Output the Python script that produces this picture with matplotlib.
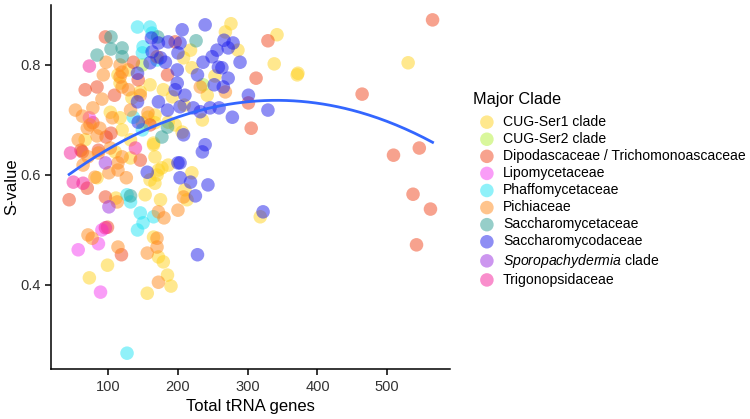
import matplotlib
matplotlib.use("Agg")
import matplotlib.pyplot as plt
import numpy as np

plt.rcParams['font.family'] = ['Liberation Sans', 'DejaVu Sans']
plt.rcParams['mathtext.fontset'] = 'custom'
plt.rcParams['mathtext.rm'] = 'Liberation Sans'
plt.rcParams['mathtext.it'] = 'Liberation Sans:italic'

# total tRNA genes / S-value per clade
cug1_x = [276, 268, 342, 338, 372, 371, 530, 318, 208, 220, 253, 192, 167, 160, 117, 117, 120,
          84, 111, 73, 99, 156, 190, 185, 179, 165, 172, 153, 175, 213, 210, 220, 160, 167, 170,
          177, 165, 132, 172, 186, 157, 149, 167, 186, 206, 165, 167, 196, 235, 286, 114, 134,
          129, 146, 218, 242, 132, 110, 103, 179, 209, 67]
cug1_y = [.875, .860, .855, .802, .785, .782, .804, .524, .813, .795, .780, .742, .709, .764, .767,
          .704, .682, .595, .558, .413, .436, .385, .398, .418, .442, .487, .451, .564, .555, .555,
          .573, .604, .591, .585, .600, .613, .655, .631, .609, .618, .705, .695, .695, .696, .678,
          .658, .633, .691, .700, .827, .782, .740,
          .791, .751, .827, .745, .664, .642, .714, .755, .727, .664]

cug2_x = [149, 236]
cug2_y = [.800, .764]

dipo_x = [565, 464, 509, 546, 537, 562, 542, 329, 312, 301, 305, 96, 136, 67, 84, 109, 78, 97,
          104, 61, 86, 44, 96, 70, 99, 119, 196, 185, 143, 146, 63, 160]
dipo_y = [.882, .747, .636, .649, .565, .538, .473, .844, .776, .731, .685, .851, .805, .755, .760,
          .745, .695, .669, .676, .645, .645, .555, .560, .576, .505, .455, .842, .782, .773, .627,
          .642, .691]

lipo_x = [73, 57, 89, 86, 91]
lipo_y = [.704, .464, .387, .475, .500]

phaf_x = [142, 160, 163, 150, 149, 136, 127, 132, 146, 142, 150, 165, 127, 149, 170]
phaf_y = [.869, .869, .858, .833, .822, .705, .564, .551, .531, .500, .513, .524, .276, .682, .809]

pich_x = [97, 117, 120, 117, 120, 91, 63, 74, 70, 84, 71, 86, 64, 81, 101, 114, 126, 114, 120,
          71, 77, 114, 113, 180, 172, 200, 208, 170, 170, 156, 172, 157, 170, 232, 268,
          93, 129, 106, 146, 78, 57, 132, 53, 88, 103]
pich_y = [.805, .800, .787, .778, .760, .738, .707, .691, .685, .671, .633, .640, .618, .596, .604,
          .609, .595, .622, .633, .491, .485, .469, .551, .522, .533, .536, .560, .485, .469, .458,
          .405, .713, .815, .760, .751,
          .782, .755, .704, .745, .722, .664, .718, .718, .685, .649]

scer_x = [104, 84, 104, 120, 120, 226, 177, 132, 185, 171]
scer_y = [.851, .818, .829, .831, .815, .844, .669, .562, .687, .851]

scod_x = [206, 239, 266, 279, 256, 272, 163, 172, 186, 203, 162, 200, 175, 182, 142, 236, 228,
          199, 199, 196, 265, 272, 263, 289, 249, 278, 222, 232, 246, 259, 172, 185, 203, 142, 143,
          301, 329, 208, 239, 235, 203, 156, 218, 243, 225, 228, 322, 258, 200, 203,
          210, 252, 160]
scod_y = [.864, .873, .845, .840, .827, .831, .824, .840, .842, .840, .849, .822, .813, .805, .785,
          .805, .782, .791, .767, .755, .760, .776, .795, .805, .815, .705, .722, .715, .722, .722,
          .733, .718, .724, .733, .696, .745, .718, .673, .655, .642, .622, .605, .587, .582, .562,
          .455, .533, .796, .622, .595,
          .745, .764, .804]

spor_x = [96, 101]
spor_y = [.622, .542]

trig_x = [73, 46, 50, 64, 96, 139]
trig_y = [.798, .640, .587, .585, .504, .649]

clades = ['CUG-Ser1 clade', 'CUG-Ser2 clade', 'Dipodascaceae / Trichomonoascaceae',
          'Lipomycetaceae', 'Phaffomycetaceae', 'Pichiaceae', 'Saccharomycetaceae',
          'Saccharomycodaceae', r'$\it{Sporopachydermia}$ clade', 'Trigonopsidaceae']
colors = ['#FFD21F', '#B5F03A', '#F0461E', '#F53CF0', '#22E4F5', '#FF8A1C', '#2E9E94',
          '#1E1EEB', '#9A2FE0', '#F51E9A']
xs = [cug1_x, cug2_x, dipo_x, lipo_x, phaf_x, pich_x, scer_x, scod_x, spor_x, trig_x]
ys = [cug1_y, cug2_y, dipo_y, lipo_y, phaf_y, pich_y, scer_y, scod_y, spor_y, trig_y]

fig = plt.figure(figsize=(7.5, 4.19), dpi=100)
ax = fig.add_axes([0.068, 0.119, 0.532, 0.869])

for lab, c, x, y in zip(clades, colors, xs, ys):
    ax.scatter(x, y, s=95, color=c, alpha=0.5, edgecolors='none', label=lab)

# quadratic smooth through all points
allx = np.concatenate([np.array(v, float) for v in xs])
ally = np.concatenate([np.array(v, float) for v in ys])
coef = np.polyfit(allx, ally, 2)
xx = np.linspace(allx.min(), allx.max(), 200)
ax.plot(xx, np.polyval(coef, xx), color='#3366FF', lw=2)

ax.set_xlim(18, 590)
ax.set_ylim(0.247, 0.909)
ax.set_xticks([100, 200, 300, 400, 500])
ax.set_yticks([0.4, 0.6, 0.8])
ax.set_yticklabels(['0.4', '0.6', '0.8'])
for s in ['top', 'right']:
    ax.spines[s].set_visible(False)
for s in ['left', 'bottom']:
    ax.spines[s].set_linewidth(1.1)
ax.tick_params(length=4, width=1.1, labelsize=10.5, colors='black', labelcolor='#333333')
ax.set_xlabel('Total tRNA genes', fontsize=12)
ax.set_ylabel('S-value', fontsize=12, labelpad=1)

leg = fig.legend(loc='upper left', bbox_to_anchor=(0.623, 0.795), frameon=False,
                 title='Major Clade', fontsize=10.1, title_fontsize=11.7,
                 labelspacing=0.22, handletextpad=0.15, borderaxespad=0)
leg._legend_box.align = 'left'
leg._legend_box.sep = 6
for h in leg.legend_handles:
    h.set_sizes([95])

fig.savefig('out.png', dpi=100)
